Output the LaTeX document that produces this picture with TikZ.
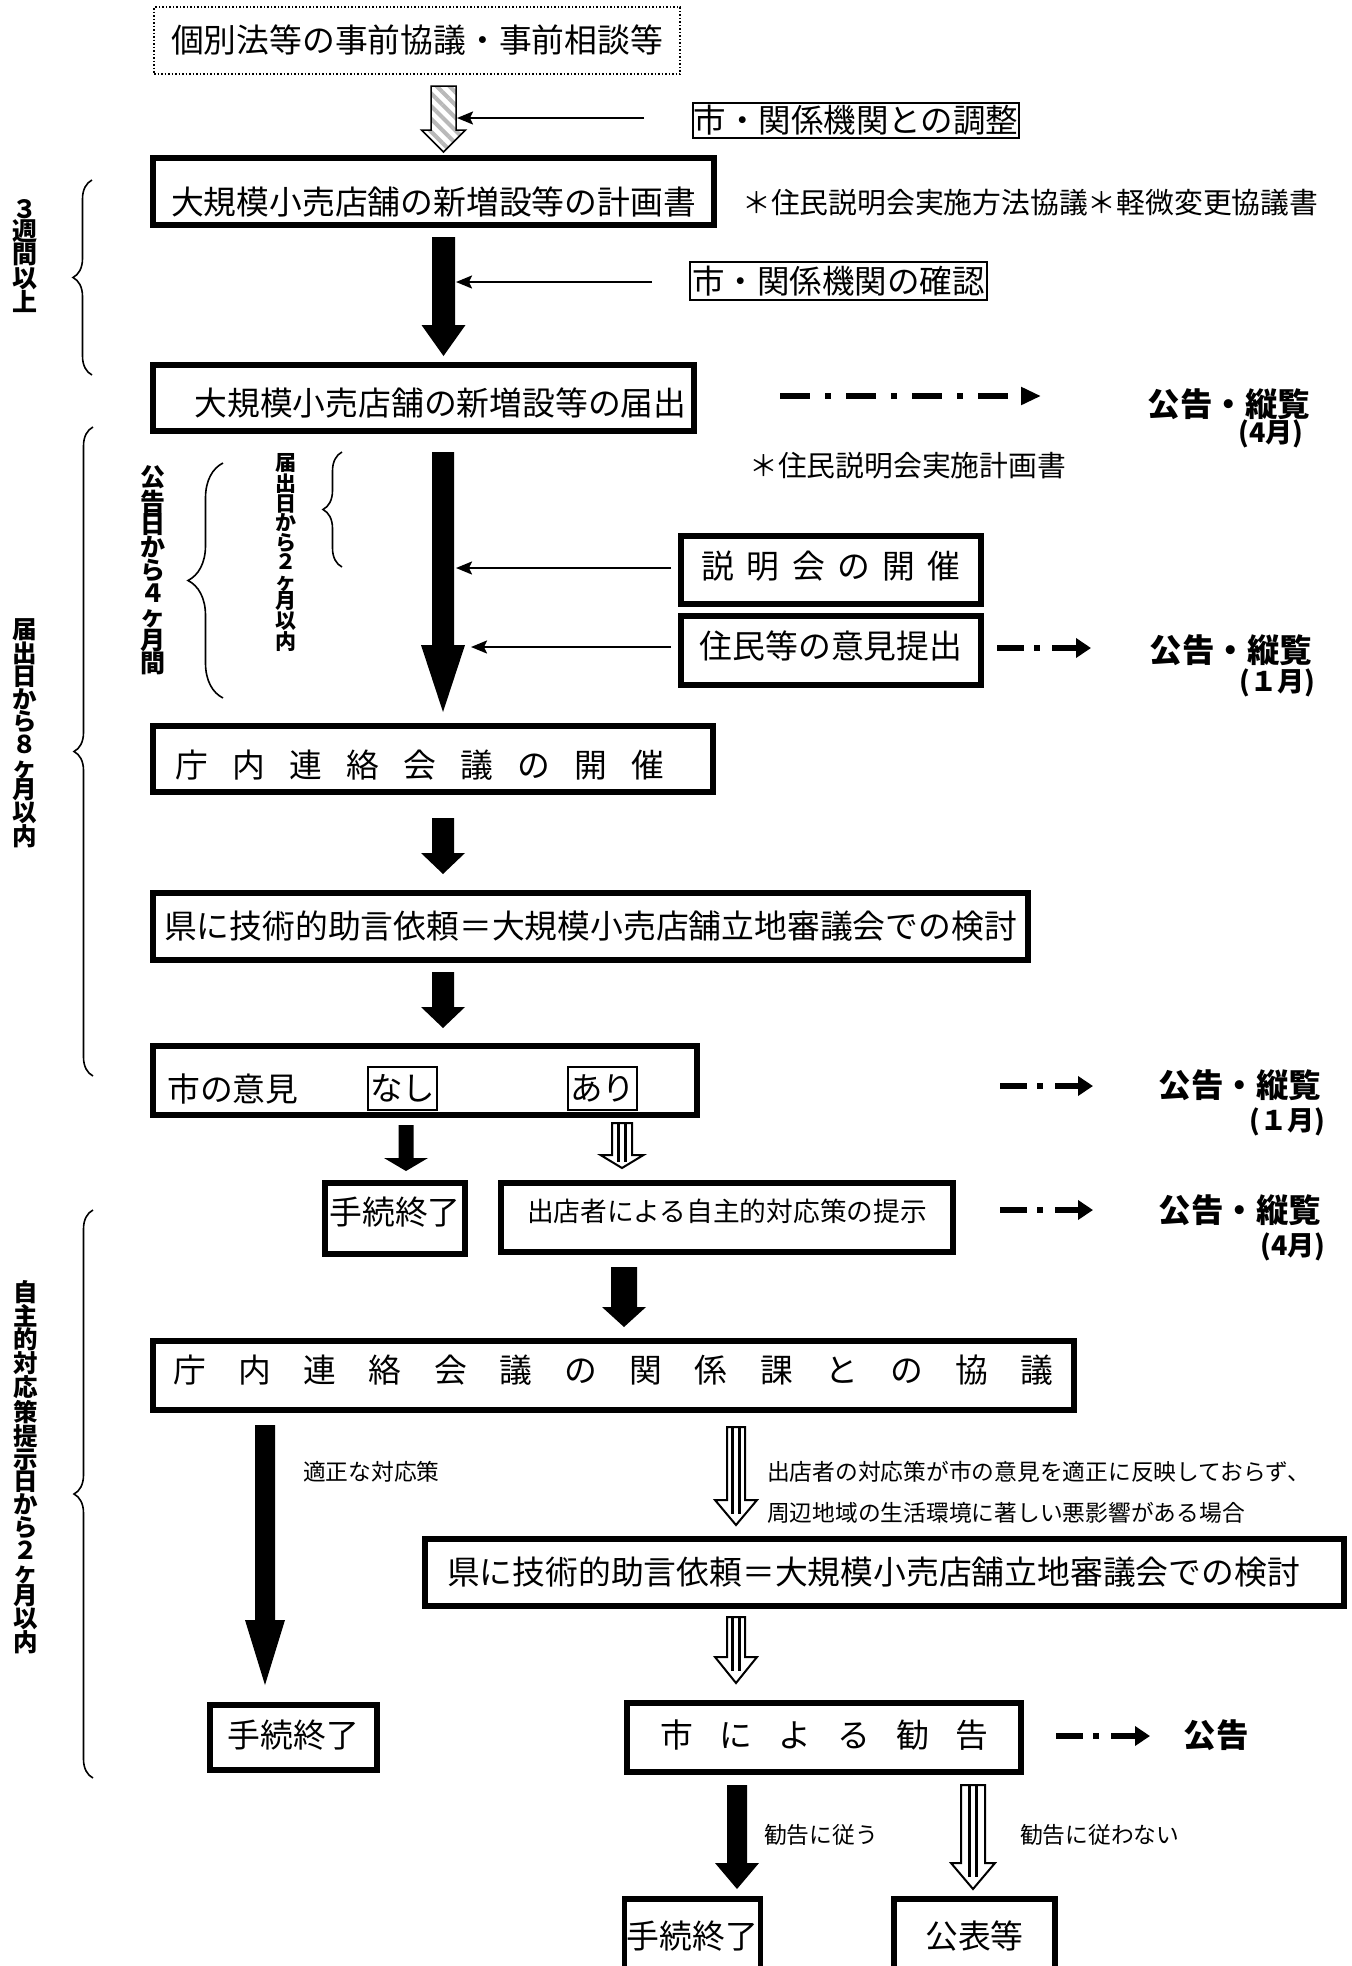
\documentclass[tikz,border=0pt]{standalone}
\usepackage{fontspec}
\newfontfamily\jp{Noto Sans CJK JP}
\usetikzlibrary{arrows.meta,decorations.pathreplacing,patterns.meta,calc}
\newcommand\fsz[1]{\fontsize{#1}{#1}\selectfont}
\newcommand\rb[2]{\raisebox{#1}[\height][\depth]{#2}}
% vertical block arrow: [style]{start}{end}{half shaft}{half head}{head length}
\newcommand\blockarrow[6][fill=black]{%
  \path[#1] let \p1=(#2), \p2=(#3) in
    (\x1-#4,\y1) -- (\x1+#4,\y1) -- (\x1+#4,\y2+#6) -- (\x1+#5,\y2+#6) --
    (\x1,\y2) -- (\x1-#5,\y2+#6) -- (\x1-#4,\y2+#6) -- cycle;}
\newcommand\stripearrow[5]{%
  \blockarrow[fill=white,draw=black,line width=2pt,line join=miter]{#1}{#2}{#3}{#4}{#5}%
  \draw[line width=2.4pt] let \p1=(#1), \p2=(#2) in
    (\x1-3.6pt,\y1) -- (\x1-3.6pt,{\y2+#5*0.45})
    (\x1+3.6pt,\y1) -- (\x1+3.6pt,{\y2+#5*0.45});}
\begin{document}
\begin{tikzpicture}[x=1pt,y=-1pt,
  box/.style={draw,line width=5.5pt,inner sep=0pt,font=\jp\fsz{32.8}},
  tbox/.style={draw,line width=2pt,inner sep=0pt,font=\jp\fsz{32.5}},
  dbox/.style={draw,line width=1.5pt,dash pattern=on 1.5pt off 2pt,inner sep=0pt,font=\jp\fsz{32.8}},
  txt/.style={inner sep=0pt,font=\jp\fsz{32.8}},
  note/.style={inner sep=0pt,font=\jp\fsz{28.8}},
  small/.style={inner sep=0pt,font=\jp\fsz{22.75}},
  lbl/.style={inner sep=0pt,font=\jp\bfseries\fsz{32.5}},
  lblm/.style={inner sep=0pt,font=\jp\bfseries\fsz{27}},
  vtxt/.style={inner sep=0pt,align=center},
  leftarr/.style={line width=2pt,-{Stealth[length=16pt,width=13pt,inset=3pt]}},
  ddlong/.style={line width=6pt,dash pattern=on 30pt off 15pt on 6pt off 15pt on 30pt off 15pt on 6pt off 15pt on 30pt off 15pt on 6pt off 15pt on 30pt off 200pt,-{Triangle[length=20pt,width=17pt]}},
  ddshort/.style={line width=6pt,dash pattern=on 27pt off 10pt on 6pt off 12pt on 200pt,-{Triangle[length=15pt,width=19pt]}},
  brc/.style={decorate,decoration={brace,amplitude=19pt},line width=1.6pt},
  hatch/.style={pattern={Lines[angle=-45,distance=9pt,line width=4pt]},pattern color=gray!55,draw=black,line width=1.5pt,line join=miter}
]
\useasboundingbox (0,0) rectangle (1352,1966);
\clip (0,0) rectangle (1352,1966);
\fill[white] (0,0) rectangle (1352,1966);

% ---------- boxes ----------
\node[dbox,minimum width=526pt,minimum height=67pt] (pre) at (417,40.5) {個別法等の事前協議・事前相談等};
\node[tbox,minimum width=326pt,minimum height=35pt] (chousei) at (856,120.5) {市・関係機関との調整};
\node[box,minimum width=561pt,minimum height=67pt] (keikaku) at (433.5,191.5) {\rb{-11pt}{大規模小売店舗の新増設等の計画書}};
\node[note,anchor=west] (note1) at (742,203) {＊住民説明会実施方法協議＊軽微変更協議書};
\node[tbox,minimum width=297pt,minimum height=38pt] (kakunin) at (838.5,281) {市・関係機関の確認};
\node[box,minimum width=541pt,minimum height=66pt] (todokede) at (423.5,398) {\hspace*{34pt}\rb{-5pt}{大規模小売店舗の新増設等の届出}};
\node[lbl] (kk1) at (1229,404) {公告・縦覧};
\node[lblm] (m1) at (1271,434) {(4月)};
\node[note,anchor=west] (note2) at (749,466) {＊住民説明会実施計画書};
\node[box,minimum width=300pt,minimum height=68pt] (setsumei) at (831,570) {\rb{4pt}{説\hspace{12.4pt}明\hspace{12.4pt}会\hspace{12.4pt}の\hspace{12.4pt}開\hspace{12.4pt}催}};
\node[box,minimum width=300pt,minimum height=69pt] (iken) at (831,650.5) {\rb{5pt}{住民等の意見提出}};
\node[lbl] (kk2) at (1231,650) {公告・縦覧};
\node[lblm] (m2) at (1277,683) {(１月)};
\node[box,minimum width=560pt,minimum height=66pt] (chonai1) at (433,759) {\rb{-6pt}{庁\hspace{24.2pt}内\hspace{24.2pt}連\hspace{24.2pt}絡\hspace{24.2pt}会\hspace{24.2pt}議\hspace{24.2pt}の\hspace{24.2pt}開\hspace{24.2pt}催}\hspace*{26pt}};
\node[box,minimum width=875pt,minimum height=67pt] (ken1) at (590.5,926.5) {県に技術的助言依頼＝大規模小売店舗立地審議会での検討};
\node[box,minimum width=544pt,minimum height=69pt] (iken2) at (425,1080.5) {};
\node[txt,anchor=west] (shinoiken) at (167,1089) {市の意見};
\node[tbox,minimum width=69pt,minimum height=43pt] (nashi) at (402.5,1088.5) {なし};
\node[tbox,minimum width=69pt,minimum height=43pt] (ari) at (602.5,1088.5) {あり};
\node[lbl] (kk3) at (1240,1085) {公告・縦覧};
\node[lblm] (m3) at (1287,1122) {(１月)};
\node[box,minimum width=140pt,minimum height=71pt] (end1) at (395,1218.5) {\rb{6pt}{手続終了}};
\node[box,minimum width=452pt,minimum height=69pt,font=\jp\fsz{26.7}] (teiji) at (727,1217.5) {\rb{6pt}{出店者による自主的対応策の提示}};
\node[lbl] (kk4) at (1240,1210) {公告・縦覧};
\node[lblm] (m4) at (1293,1247) {(4月)};
\node[box,minimum width=921pt,minimum height=69pt] (kyogi) at (613.5,1375.5) {\rb{5pt}{庁\hspace{32.4pt}内\hspace{32.4pt}連\hspace{32.4pt}絡\hspace{32.4pt}会\hspace{32.4pt}議\hspace{32.4pt}の\hspace{32.4pt}関\hspace{32.4pt}係\hspace{32.4pt}課\hspace{32.4pt}と\hspace{32.4pt}の\hspace{32.4pt}協\hspace{32.4pt}議}};
\node[small,anchor=west] (tekisei) at (303,1472) {適正な対応策};
\node[small,anchor=west] (cond1) at (767,1472) {出店者の対応策が市の意見を適正に反映しておらず、};
\node[small,anchor=west] (cond2) at (767,1513) {周辺地域の生活環境に著しい悪影響がある場合};
\node[box,minimum width=919pt,minimum height=67pt] (ken2) at (884.5,1572.5) {県に技術的助言依頼＝大規模小売店舗立地審議会での検討\hspace*{22pt}};
\node[box,minimum width=167pt,minimum height=65pt] (end2) at (293.5,1737.5) {\rb{2pt}{手続終了}};
\node[box,minimum width=394pt,minimum height=69pt] (kankoku) at (824,1737.5) {\rb{2pt}{市\hspace{26.2pt}に\hspace{26.2pt}よ\hspace{26.2pt}る\hspace{26.2pt}勧\hspace{26.2pt}告}};
\node[lbl] (kk5) at (1216,1735) {公告};
\node[small,anchor=west] (follow) at (764,1835) {勧告に従う};
\node[small,anchor=west] (nofollow) at (1020,1835) {勧告に従わない};
\node[box,minimum width=136pt,minimum height=80pt] (end3) at (692.5,1939) {\rb{3pt}{手続終了}};
\node[box,minimum width=161pt,minimum height=80pt] (kohyo) at (974.5,1939) {\rb{3pt}{公表等}};

% ---------- vertical labels and braces ----------
\node[vtxt,font=\jp\bfseries\fontsize{25}{22}\selectfont] (v1) at (25,256) {３\\週\\間\\以\\上};
\node[vtxt,font=\jp\bfseries\fontsize{24.5}{22.7}\selectfont] (v2) at (25,733.5) {届\\出\\日\\か\\ら\\８\\ヶ\\月\\以\\内};
\node[vtxt,font=\jp\bfseries\fontsize{25}{22.9}\selectfont] (v3) at (153,570) {公\\告\\日\\か\\ら\\４\\ヶ\\月\\間};
\node[vtxt,font=\jp\bfseries\fontsize{21}{19.5}\selectfont] (v4) at (286,552.5) {届\\出\\日\\か\\ら\\２\\ヶ\\月\\以\\内};
\node[vtxt,font=\jp\bfseries\fontsize{24.5}{22.75}\selectfont] (v5) at (26,1467) {自\\主\\的\\対\\応\\策\\提\\示\\日\\か\\ら\\２\\ヶ\\月\\以\\内};

\coordinate (b1s) at (92,375);  \coordinate (b1e) at (92,180);
\coordinate (b2s) at (93,1076); \coordinate (b2e) at (93,427);
\coordinate (b3s) at (223,698); \coordinate (b3e) at (223,463);
\coordinate (b4s) at (342,567); \coordinate (b4e) at (342,452);
\coordinate (b5s) at (93,1778); \coordinate (b5e) at (93,1210);
\draw[brc] (b1s) -- (b1e);
\draw[brc] (b2s) -- (b2e);
\draw[brc,decoration={brace,amplitude=35pt}] (b3s) -- (b3e);
\draw[brc] (b4s) -- (b4e);
\draw[brc] (b5s) -- (b5e);

% ---------- block arrows ----------
\coordinate (a1s) at (443.5,86);   \coordinate (a1e) at (443.5,152);
\coordinate (a2s) at (443.5,237);  \coordinate (a2e) at (443.5,356);
\coordinate (a3s) at (443,452);    \coordinate (a3e) at (443,712);
\coordinate (a4s) at (443,818);    \coordinate (a4e) at (443,874);
\coordinate (a5s) at (443,972);    \coordinate (a5e) at (443,1028);
\coordinate (a6s) at (406,1125);   \coordinate (a6e) at (406,1171);
\coordinate (a7s) at (622,1123);   \coordinate (a7e) at (622,1168);
\coordinate (a8s) at (624,1267);   \coordinate (a8e) at (624,1327);
\coordinate (a9s) at (265,1425);   \coordinate (a9e) at (265,1685);
\coordinate (a10s) at (736,1427);  \coordinate (a10e) at (736,1525);
\coordinate (a11s) at (736,1617);  \coordinate (a11e) at (736,1683);
\coordinate (a12s) at (737,1785);  \coordinate (a12e) at (737,1889);
\coordinate (a13s) at (973,1785);  \coordinate (a13e) at (973,1889);

\blockarrow[hatch]{a1s}{a1e}{12.5pt}{22pt}{22pt}
\blockarrow{a2s}{a2e}{11.5pt}{22pt}{31pt}
\blockarrow{a3s}{a3e}{11pt}{22pt}{67pt}
\blockarrow{a4s}{a4e}{11pt}{22pt}{21pt}
\blockarrow{a5s}{a5e}{11pt}{22pt}{21pt}
\blockarrow{a6s}{a6e}{7.5pt}{22pt}{13pt}
\stripearrow{a7s}{a7e}{10pt}{21.5pt}{13pt}
\blockarrow{a8s}{a8e}{13pt}{22pt}{20pt}
\blockarrow{a9s}{a9e}{10pt}{20pt}{65pt}
\stripearrow{a10s}{a10e}{9pt}{21pt}{25pt}
\stripearrow{a11s}{a11e}{9pt}{21pt}{26pt}
\blockarrow{a12s}{a12e}{10pt}{22pt}{26pt}
\stripearrow{a13s}{a13e}{12pt}{22pt}{26pt}

% ---------- thin arrows ----------
\coordinate (t1s) at (644,118); \coordinate (t1e) at (457,118);
\coordinate (t2s) at (652,282); \coordinate (t2e) at (456,282);
\coordinate (t3s) at (671,568); \coordinate (t3e) at (456,568);
\coordinate (t4s) at (671,647); \coordinate (t4e) at (471,647);
\draw[leftarr] (t1s) -- (t1e);
\draw[leftarr] (t2s) -- (t2e);
\draw[leftarr] (t3s) -- (t3e);
\draw[leftarr] (t4s) -- (t4e);

% ---------- dash-dot arrows ----------
\coordinate (d1s) at (780,396);  \coordinate (d1e) at (1041,396);
\coordinate (d2s) at (997,648);  \coordinate (d2e) at (1091,648);
\coordinate (d3s) at (1000,1086); \coordinate (d3e) at (1093,1086);
\coordinate (d4s) at (1000,1210); \coordinate (d4e) at (1093,1210);
\coordinate (d5s) at (1056,1736); \coordinate (d5e) at (1150,1736);
\draw[ddlong] (d1s) -- (d1e);
\draw[ddshort] (d2s) -- (d2e);
\draw[ddshort] (d3s) -- (d3e);
\draw[ddshort] (d4s) -- (d4e);
\draw[ddshort] (d5s) -- (d5e);
\end{tikzpicture}
\end{document}
